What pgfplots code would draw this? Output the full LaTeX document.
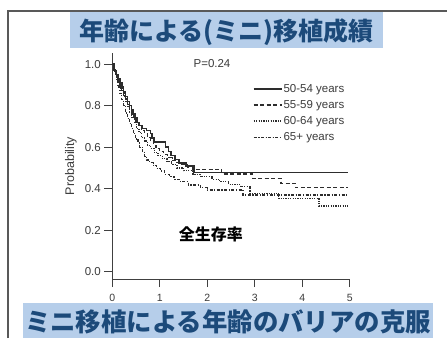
\documentclass[border=0pt]{standalone}
\usepackage{pgfplots}
\pgfplotsset{compat=1.18}
\usepackage{fontspec}
\setmainfont{Liberation Sans}
\newfontfamily\cjk{Noto Sans CJK JP}
\definecolor{boxblue}{RGB}{182,206,234}
\definecolor{titleblue}{RGB}{28,74,122}
\definecolor{curve}{RGB}{45,45,45}
\definecolor{ticktext}{RGB}{60,60,60}
\begin{document}
\begin{tikzpicture}[x=1pt,y=1pt]
\path[use as bounding box] (0,0) rectangle (447,338);
\fill[white] (0,0) rectangle (447,338);
\draw[line width=1.2pt, color=black!65] (8,0) -- (8,327) -- (447,327);
\begin{axis}[
  at={(112.3pt,59pt)}, anchor=south west,
  scale only axis, width=237.5pt, height=226pt,
  xmin=0, xmax=5, ymin=-0.035, ymax=1.054,
  axis lines=left, axis line style={-, color=black!75, line width=0.9pt},
  xtick={0,1,2,3,4,5}, ytick={0,0.2,0.4,0.6,0.8,1.0},
  tick align=outside,
  major tick length=8pt,
  tick style={color=black!75, line width=0.9pt},
  yticklabel style={/pgf/number format/.cd, fixed, fixed zerofill, precision=1},
  xticklabel style={yshift=-4pt, font=\fontsize{10.5}{12}\selectfont},
  /pgf/number format/assume math mode=true,
  tick label style={font=\fontsize{11.5}{13}\selectfont, color=ticktext},
  every axis plot/.append style={color=curve, const plot},
  legend style={at={(0.592,0.868)}, anchor=north west, draw=none, fill=none,
    font=\fontsize{11.5}{13}\selectfont, text=ticktext, row sep=4.6pt,
    inner sep=0pt, nodes={inner sep=1pt}},
  legend cell align=left,
  legend image code/.code={\draw[#1] (0pt,0pt) -- (22pt,0pt); \path (0pt,0pt) -- (28pt,0pt);},
]
\addplot[line width=1.5pt] coordinates {
(0,1.0) (0.04,0.97) (0.08,0.95) (0.12,0.93) (0.16,0.91) (0.20,0.89) (0.24,0.865)
(0.28,0.845) (0.32,0.82) (0.36,0.80) (0.40,0.78) (0.44,0.76) (0.48,0.74) (0.52,0.72)
(0.56,0.705) (0.62,0.69) (0.72,0.68) (0.80,0.665) (0.84,0.645) (0.88,0.625)
(1.12,0.60) (1.18,0.58) (1.24,0.56) (1.32,0.54) (1.40,0.525) (1.55,0.51) (1.72,0.478) (4.96,0.478)};
\addlegendentry{50-54 years}
\addplot[line width=1.2pt, dash pattern=on 4pt off 2.5pt] coordinates {
(0,1.0) (0.04,0.965) (0.08,0.94) (0.12,0.92) (0.16,0.90) (0.20,0.875) (0.24,0.85)
(0.28,0.83) (0.32,0.805) (0.36,0.785) (0.40,0.765) (0.44,0.745) (0.50,0.72) (0.56,0.70)
(0.62,0.68) (0.68,0.665) (0.74,0.645) (0.80,0.63) (0.86,0.61) (0.92,0.595) (1.00,0.58)
(1.08,0.565) (1.16,0.55) (1.26,0.535) (1.36,0.525) (1.46,0.515) (1.58,0.505) (1.70,0.493)
(2.30,0.471) (2.95,0.45) (3.55,0.426) (3.85,0.405) (4.96,0.405)};
\addlegendentry{55-59 years}
\addplot[line width=1.2pt, dash pattern=on 1.2pt off 1.2pt] coordinates {
(0,1.0) (0.03,0.97) (0.06,0.95) (0.09,0.935) (0.13,0.91) (0.17,0.885) (0.21,0.865)
(0.25,0.84) (0.29,0.815) (0.33,0.79) (0.37,0.765) (0.41,0.745) (0.46,0.72) (0.51,0.69)
(0.56,0.67) (0.62,0.645) (0.68,0.63) (0.74,0.61) (0.80,0.595) (0.88,0.575) (0.96,0.56)
(1.05,0.545) (1.15,0.53) (1.25,0.515) (1.36,0.50) (1.50,0.487) (1.70,0.47) (1.85,0.458)
(2.10,0.445) (2.26,0.434) (2.45,0.42) (2.70,0.41) (2.90,0.378) (3.50,0.354) (4.35,0.317) (4.96,0.317)};
\addlegendentry{60-64 years}
\addplot[line width=1.2pt, dash pattern=on 3pt off 1.5pt on 1.2pt off 1.5pt] coordinates {
(0,1.0) (0.03,0.975) (0.06,0.955) (0.09,0.92) (0.12,0.89) (0.16,0.86) (0.20,0.83)
(0.24,0.80) (0.28,0.765) (0.32,0.74) (0.36,0.715) (0.40,0.69) (0.44,0.667) (0.49,0.64)
(0.54,0.62) (0.58,0.60) (0.63,0.58) (0.68,0.555) (0.72,0.538) (0.78,0.525) (0.86,0.51)
(0.93,0.498) (1.02,0.485) (1.10,0.47) (1.20,0.46) (1.30,0.445) (1.43,0.434) (1.60,0.418)
(1.85,0.405) (2.00,0.394) (2.75,0.37) (4.96,0.37)};
\addlegendentry{65+ years}
\end{axis}
\node[font=\fontsize{11.5}{13}\selectfont, text=ticktext] at (212,274) {P=0.24};
\node[font=\fontsize{12.5}{14}\selectfont, text=ticktext, rotate=90] at (71,172) {Probability};
\node[font=\cjk\bfseries\fontsize{16}{18}\selectfont] at (210.8,104) {全生存率};
\fill[boxblue] (70,290) rectangle (383,326);
\node[font=\cjk\bfseries\fontsize{25}{28}\selectfont, text=titleblue] at (226.5,306) {年齢による(ミニ)移植成績};
\fill[boxblue] (23,0) rectangle (433,35);
\node[font=\cjk\bfseries\fontsize{25.4}{28}\selectfont, text=titleblue] at (228,16) {ミニ移植による年齢のバリアの克服};
\end{tikzpicture}
\end{document}
